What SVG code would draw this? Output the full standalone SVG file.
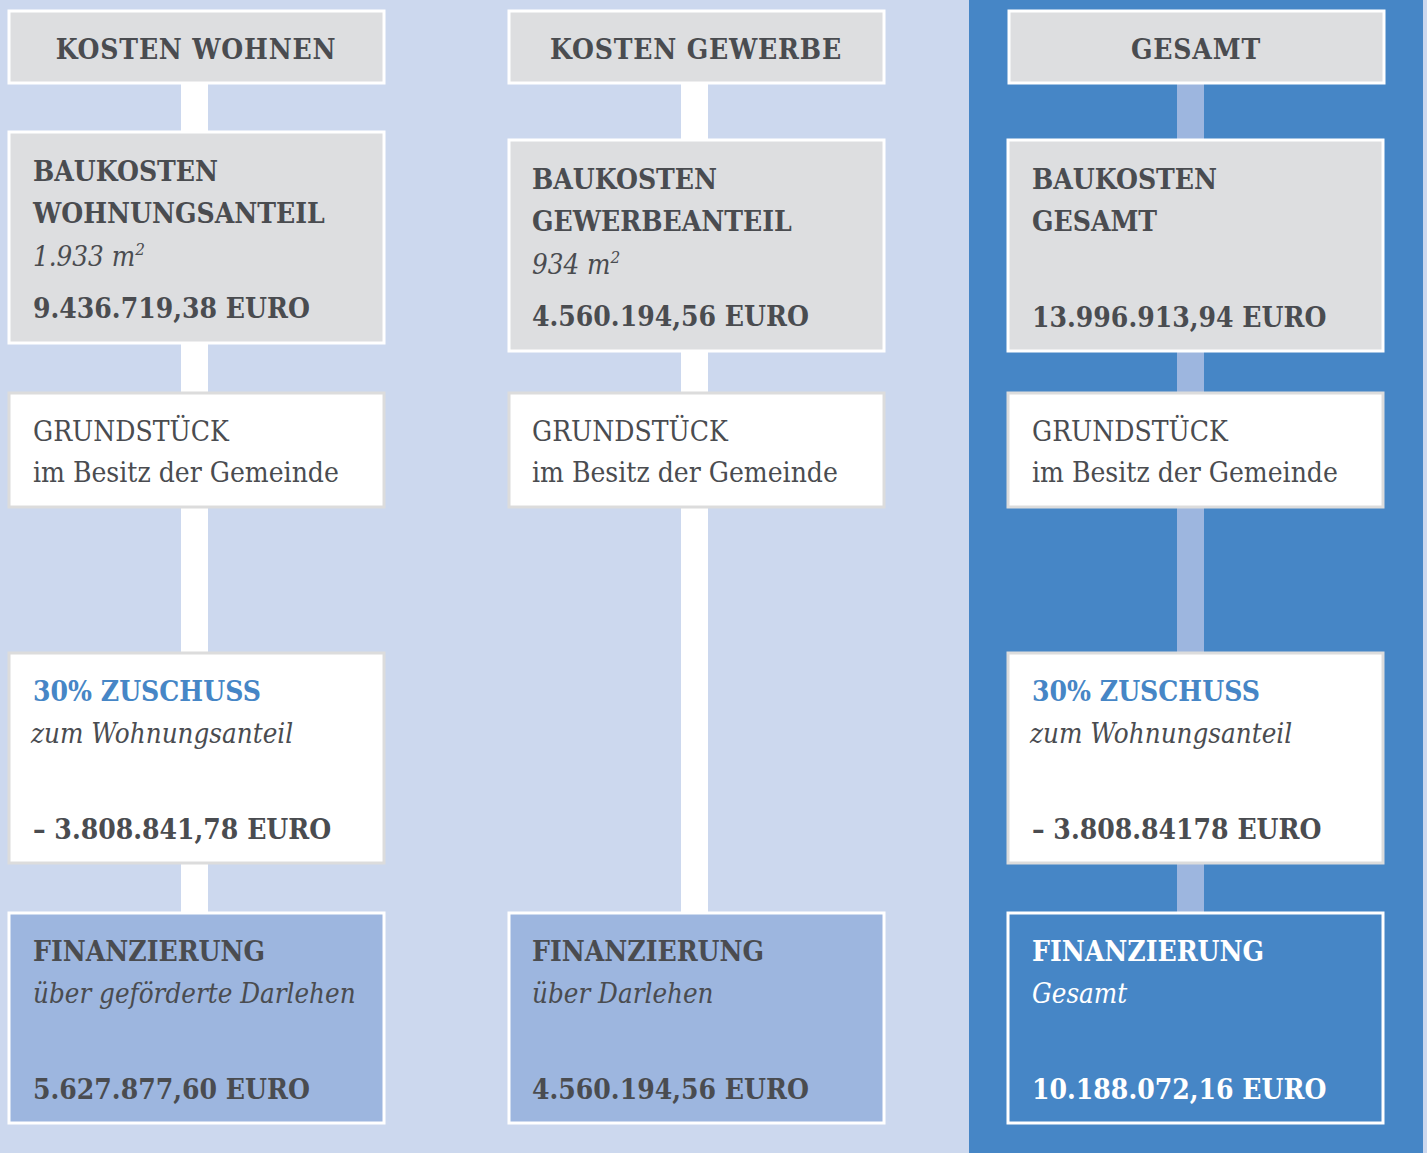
<svg xmlns="http://www.w3.org/2000/svg" width="1427" height="1153" viewBox="0 0 1427 1153">
<style>
.t{font-family:"DejaVu Serif Condensed","DejaVu Serif",serif;fill:#4a4c50;font-size:28px}
.b{font-weight:bold}
.i{font-style:italic;font-size:27.5px}
.h{font-weight:bold;letter-spacing:0.8px;text-anchor:middle}
.w{fill:#ffffff}
.bl{fill:#4686c6}
.grey{fill:#dddee0;stroke:#ffffff;stroke-width:3}
.white{fill:#ffffff;stroke:#dcdcdc;stroke-width:3}
.fin{fill:#9db6df;stroke:#ffffff;stroke-width:3}
.finr{fill:#4686c6;stroke:#ffffff;stroke-width:3}
</style>
<rect x="0" y="0" width="1427" height="1153" fill="#ccd8ee"/>
<rect x="969" y="0" width="454" height="1153" fill="#4686c6"/>
<g id="connectors">
<rect x="181" y="83" width="27" height="830" fill="#ffffff"/>
<rect x="681" y="83" width="27" height="830" fill="#ffffff"/>
<rect x="1177" y="83" width="27" height="830" fill="#9db6df"/>
</g>
<g id="kosten-wohnen">
<rect class="grey" x="9" y="11" width="375" height="72"/>
<text class="t h" x="196" y="59">KOSTEN WOHNEN</text>
</g>
<g id="kosten-gewerbe">
<rect class="grey" x="509" y="11" width="375" height="72"/>
<text class="t h" x="696" y="59">KOSTEN GEWERBE</text>
</g>
<g id="gesamt">
<rect class="grey" x="1009" y="11" width="375" height="72"/>
<text class="t h" x="1196" y="59">GESAMT</text>
</g>
<g id="baukosten-wohnen">
<rect class="grey" x="9" y="132" width="375" height="211"/>
<text class="t b" x="33" y="181">BAUKOSTEN</text>
<text class="t b" x="33" y="223">WOHNUNGSANTEIL</text>
<text class="t i" x="33" y="266">1.933 m<tspan font-size="17" dy="-11">2</tspan></text>
<text class="t b" x="33" y="318">9.436.719,38 EURO</text>
</g>
<g id="baukosten-gewerbe">
<rect class="grey" x="509" y="140" width="375" height="211"/>
<text class="t b" x="532" y="189">BAUKOSTEN</text>
<text class="t b" x="532" y="231">GEWERBEANTEIL</text>
<text class="t i" x="532" y="274">934 m<tspan font-size="17" dy="-11">2</tspan></text>
<text class="t b" x="532" y="326">4.560.194,56 EURO</text>
</g>
<g id="baukosten-gesamt">
<rect class="grey" x="1008" y="140" width="375" height="211"/>
<text class="t b" x="1032" y="189">BAUKOSTEN</text>
<text class="t b" x="1032" y="231">GESAMT</text>
<text class="t b" x="1032" y="327">13.996.913,94 EURO</text>
</g>
<g id="grundstueck-wohnen">
<rect class="white" x="9" y="393" width="375" height="114"/>
<text class="t" x="33" y="441">GRUNDSTÜCK</text>
<text class="t" x="33" y="482">im Besitz der Gemeinde</text>
</g>
<g id="grundstueck-gewerbe">
<rect class="white" x="509" y="393" width="375" height="114"/>
<text class="t" x="532" y="441">GRUNDSTÜCK</text>
<text class="t" x="532" y="482">im Besitz der Gemeinde</text>
</g>
<g id="grundstueck-gesamt">
<rect class="white" x="1008" y="393" width="375" height="114"/>
<text class="t" x="1032" y="441">GRUNDSTÜCK</text>
<text class="t" x="1032" y="482">im Besitz der Gemeinde</text>
</g>
<g id="zuschuss-wohnen">
<rect class="white" x="9" y="653" width="375" height="210"/>
<text class="t b bl" x="33" y="701">30% ZUSCHUSS</text>
<text class="t i" x="31" y="743">zum Wohnungsanteil</text>
<text class="t b" x="33" y="839">– 3.808.841,78 EURO</text>
</g>
<g id="zuschuss-gesamt">
<rect class="white" x="1008" y="653" width="375" height="210"/>
<text class="t b bl" x="1032" y="701">30% ZUSCHUSS</text>
<text class="t i" x="1030" y="743">zum Wohnungsanteil</text>
<text class="t b" x="1032" y="839">– 3.808.84178 EURO</text>
</g>
<g id="finanzierung-wohnen">
<rect class="fin" x="9" y="913" width="375" height="210"/>
<text class="t b" x="33" y="961">FINANZIERUNG</text>
<text class="t i" x="33" y="1003">über geförderte Darlehen</text>
<text class="t b" x="33" y="1099">5.627.877,60 EURO</text>
</g>
<g id="finanzierung-gewerbe">
<rect class="fin" x="509" y="913" width="375" height="210"/>
<text class="t b" x="532" y="961">FINANZIERUNG</text>
<text class="t i" x="532" y="1003">über Darlehen</text>
<text class="t b" x="532" y="1099">4.560.194,56 EURO</text>
</g>
<g id="finanzierung-gesamt">
<rect class="finr" x="1008" y="913" width="375" height="210"/>
<text class="t b w" x="1032" y="961">FINANZIERUNG</text>
<text class="t i w" x="1032" y="1003">Gesamt</text>
<text class="t b w" x="1032" y="1099">10.188.072,16 EURO</text>
</g>
</svg>
